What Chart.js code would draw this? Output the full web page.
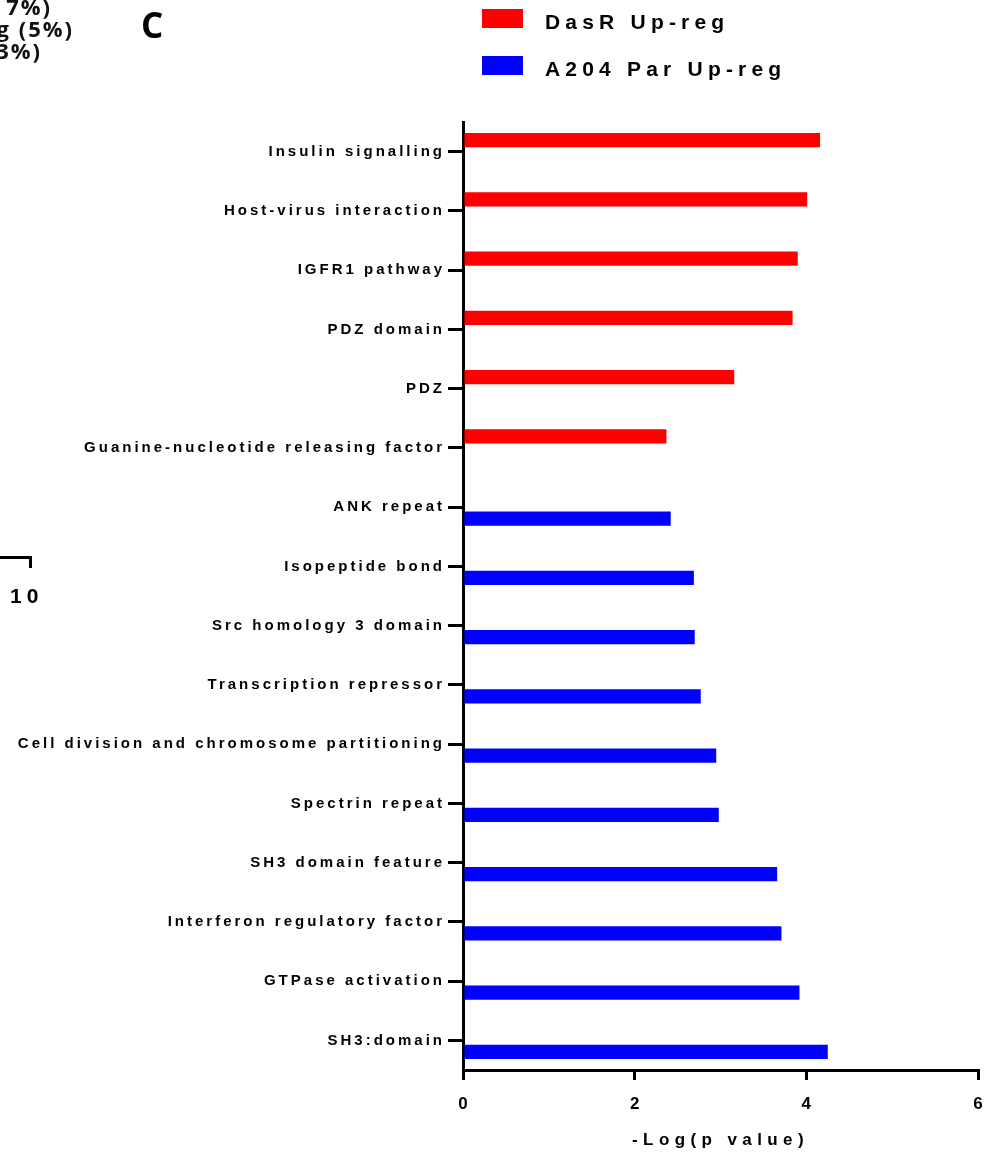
<!DOCTYPE html>
<html>
<head>
<meta charset="utf-8">
<title>Enriched terms: -Log(p value)</title>
<script src="https://cdn.jsdelivr.net/npm/chart.js@4.4.1/dist/chart.umd.min.js"></script>
<style>
  html, body { margin: 0; padding: 0; background: #ffffff; }
  #wrap { position: relative; width: 984px; height: 1152px; overflow: hidden; background: #ffffff; }
  #chart { position: absolute; left: 0; top: 0; }
  .frag { position: absolute; white-space: nowrap; line-height: 1; color: #111; font-weight: 700; }
  .pct { font-family: "Open Sans", sans-serif; font-size: 22px; letter-spacing: 2px; text-align: right; }
  .panel { font-family: "Open Sans", sans-serif; font-size: 35px; color: #000; }
  .tick10 { font-family: "Liberation Sans", Arial, sans-serif; font-size: 21px; letter-spacing: 5px; color: #000; }
  .rule { position: absolute; background: #000; }
</style>
</head>
<body>
<div id="wrap">
  <canvas id="chart" width="984" height="1152"></canvas>

  <!-- neighbouring panel edge -->
  <div class="frag pct" style="right:932px; top:-5px;">7%)</div>
  <div class="frag pct" style="right:910px; top:17px;">g (5%)</div>
  <div class="frag pct" style="right:942px; top:39px;">3%)</div>
  <div class="rule" style="left:0; top:556px; width:32px; height:3px;"></div>
  <div class="rule" style="left:29px; top:556px; width:3px; height:12px;"></div>
  <div class="frag tick10" style="left:10px; top:585px;">10</div>

  <!-- panel letter -->
  <div class="frag panel" style="left:141px; top:7px;">C</div>
</div>

<script>
// Enriched annotation terms, top to bottom
const categories = [
  'Insulin signalling',
  'Host-virus interaction',
  'IGFR1 pathway',
  'PDZ domain',
  'PDZ',
  'Guanine-nucleotide releasing factor',
  'ANK repeat',
  'Isopeptide bond',
  'Src homology 3 domain',
  'Transcription repressor',
  'Cell division and chromosome partitioning',
  'Spectrin repeat',
  'SH3 domain feature',
  'Interferon regulatory factor',
  'GTPase activation',
  'SH3:domain'
];

// -Log(p value) per term; each term belongs to one of the two groups
const dasrUpValues = [4.16, 4.01, 3.90, 3.84, 3.16, 2.37,
  null, null, null, null, null, null, null, null, null, null];
const a204ParUpValues = [null, null, null, null, null, null,
  2.42, 2.69, 2.70, 2.77, 2.95, 2.98, 3.66, 3.71, 3.92, 4.25];

const seriesLabels = ['DasR Up-reg', 'A204 Par Up-reg'];
const seriesColors = ['#ff0000', '#0000ff'];

const xTickValues = [0, 2, 4, 6];
const xTitle = '-Log(p value)';

const BLACK = '#000000';
const FONT_FAMILY = '"Liberation Sans", Arial, Helvetica, sans-serif';

// Canvas text with extra tracking for scale labels and titles
function addTracking(scale, method, spacing) {
  const original = scale[method];
  scale[method] = function (...args) {
    const ctx = this.ctx;
    const previous = ctx.letterSpacing;
    ctx.letterSpacing = spacing;
    try { return original.apply(this, args); }
    finally { ctx.letterSpacing = previous; }
  };
}

const trackedText = {
  id: 'trackedText',
  afterLayout(chart, args, opts) {
    for (const [id, cfg] of Object.entries(opts.scales || {})) {
      const scale = chart.scales[id];
      if (!scale || scale.$tracked) continue;
      if (cfg.labels) addTracking(scale, 'drawLabels', cfg.labels);
      if (cfg.title) addTracking(scale, 'drawTitle', cfg.title);
      scale.$tracked = true;
    }
  }
};

// Two-row legend: colour swatch followed by the series name
const stackedLegend = {
  id: 'stackedLegend',
  afterDraw(chart, args, opts) {
    const ctx = chart.ctx;
    ctx.save();
    ctx.font = opts.font;
    ctx.letterSpacing = opts.letterSpacing;
    ctx.textAlign = 'left';
    ctx.textBaseline = 'alphabetic';
    chart.data.datasets.forEach((ds, i) => {
      const top = opts.top + i * opts.rowGap;
      ctx.fillStyle = ds.backgroundColor;
      ctx.fillRect(opts.left, top, opts.boxWidth, opts.boxHeight);
      ctx.fillStyle = BLACK;
      ctx.fillText(ds.label, opts.textLeft, top + opts.baseline);
    });
    ctx.restore();
  }
};

new Chart(document.getElementById('chart'), {
  type: 'bar',
  data: {
    labels: categories,
    datasets: [
      {
        label: seriesLabels[0],
        data: dasrUpValues,
        backgroundColor: seriesColors[0],
        borderWidth: 0
      },
      {
        label: seriesLabels[1],
        data: a204ParUpValues,
        backgroundColor: seriesColors[1],
        borderWidth: 0
      }
    ]
  },
  options: {
    indexAxis: 'y',
    responsive: false,
    animation: false,
    devicePixelRatio: 1,
    categoryPercentage: 0.776,
    barPercentage: 0.63,
    layout: { padding: { top: 122, right: 6, bottom: 0, left: 0 } },
    scales: {
      x: {
        type: 'linear',
        min: 0,
        max: 6,
        afterBuildTicks(scale) {
          scale.ticks = xTickValues.map(v => ({ value: v }));
        },
        afterFit(scale) {
          scale.height = 82;
          scale.paddingLeft = 0;
          scale.paddingRight = 0;
        },
        grid: {
          display: true,
          drawOnChartArea: false,
          drawTicks: true,
          tickLength: 10,
          tickWidth: 3,
          lineWidth: 3,
          tickColor: BLACK,
          color: BLACK
        },
        border: { display: true, color: BLACK, width: 3 },
        ticks: {
          color: BLACK,
          padding: 14,
          font: { family: FONT_FAMILY, size: 17, weight: 'bold' }
        },
        title: {
          display: true,
          text: xTitle,
          color: BLACK,
          padding: { top: 0, bottom: 1 },
          font: { family: FONT_FAMILY, size: 17, weight: 'bold' }
        }
      },
      y: {
        type: 'category',
        afterFit(scale) {
          scale.width = 463;
          scale.paddingTop = 0;
          scale.paddingBottom = 0;
        },
        grid: {
          display: true,
          drawOnChartArea: false,
          drawTicks: true,
          tickLength: 15,
          tickWidth: 3,
          lineWidth: 3,
          tickColor: BLACK,
          color: BLACK,
          offset: false
        },
        border: { display: true, color: BLACK, width: 3 },
        ticks: {
          autoSkip: false,
          color: BLACK,
          padding: 3,
          font: { family: FONT_FAMILY, size: 15, weight: 'bold' }
        }
      }
    },
    plugins: {
      legend: { display: false },
      tooltip: { enabled: false },
      trackedText: {
        scales: {
          x: { labels: '0px', title: '5.4px' },
          y: { labels: '3px' }
        }
      },
      stackedLegend: {
        left: 482,
        top: 9,
        rowGap: 47,
        boxWidth: 41,
        boxHeight: 19,
        textLeft: 545,
        baseline: 20,
        font: 'bold 21px ' + FONT_FAMILY,
        letterSpacing: '5.2px'
      }
    }
  },
  plugins: [trackedText, stackedLegend]
});
</script>
</body>
</html>
